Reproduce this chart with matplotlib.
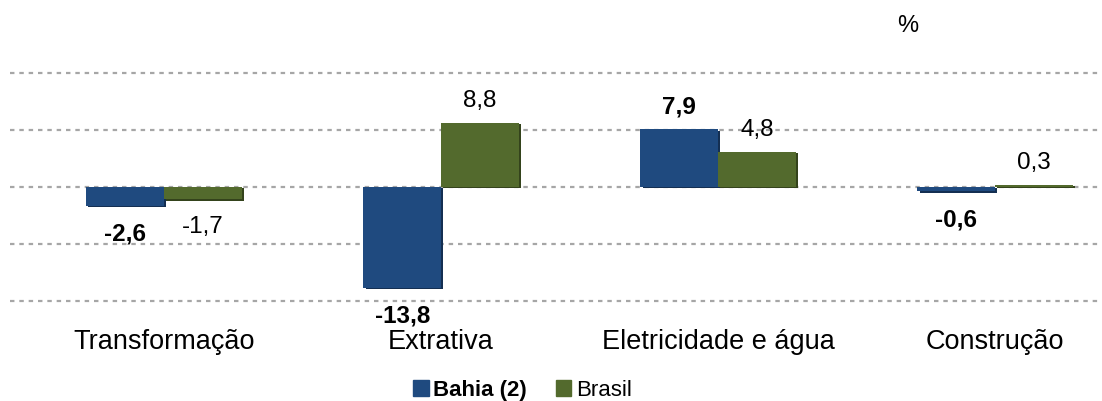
import numpy as np
import matplotlib.pyplot as plt
import matplotlib.patheffects as pe

categories = ["Transformação", "Extrativa", "Eletricidade e água", "Construção"]
bahia = [-2.6, -13.8, 7.9, -0.6]
brasil = [-1.7, 8.8, 4.8, 0.3]
series_names = ["Bahia (2)", "Brasil"]
grid_levels = [-15.6, -7.8, 0, 7.8, 15.6]

BLUE = "#1F4A7F"
GREEN = "#536A2D"

plt.rcParams['font.family'] = ['Liberation Sans', 'DejaVu Sans']

fig = plt.figure(figsize=(11.02, 4.01), dpi=100)
ax = fig.add_axes([0.009, 0.2244, 0.991, 0.6278])

x = np.arange(len(categories))
w = 0.28

for lv in grid_levels:
    ax.axhline(lv, color="#A6A6A6", lw=1.6, ls=(0, (2, 2.2)), zorder=0)

shadow = lambda c: [pe.SimplePatchShadow(offset=(1.5, -1), shadow_rgbFace=c, alpha=1), pe.Normal()]
b1 = ax.bar(x - w / 2, bahia, w, color=BLUE, zorder=2,
            path_effects=shadow("#142F52"))
b2 = ax.bar(x + w / 2, brasil, w, color=GREEN, zorder=2,
            path_effects=shadow("#34431C"))

for bars, vals, weight in [(b1, bahia, "bold"), (b2, brasil, "normal")]:
    for r, v in zip(bars, vals):
        cx = r.get_x() + r.get_width() / 2
        lab = f"{v:.1f}".replace(".", ",")
        if v >= 0:
            ax.annotate(lab, (cx, v), xytext=(0, 8), textcoords="offset points",
                        ha="center", va="bottom", fontsize=17.5, fontweight=weight)
        else:
            ax.annotate(lab, (cx, v), xytext=(0, -12), textcoords="offset points",
                        ha="center", va="top", fontsize=17.5, fontweight=weight)

ax.set_xlim(-0.556, 3.386)
ax.set_ylim(-17, 17.5)
ax.set_xticks(x)
ax.set_xticklabels(categories, fontsize=19.5)
ax.tick_params(axis="x", length=0, pad=13)
ax.set_yticks([])
for s in ax.spines.values():
    s.set_visible(False)

fig.text(0.824, 0.935, "%", fontsize=17, ha="center", va="center")

handles = [plt.Rectangle((0, 0), 1, 1, color=BLUE), plt.Rectangle((0, 0), 1, 1, color=GREEN)]
leg = fig.legend(handles, series_names, loc="center", bbox_to_anchor=(0.474, 0.027),
                 ncol=2, frameon=False, fontsize=16, handlelength=0.7, handleheight=0.7,
                 handletextpad=0.2, columnspacing=1.3)
leg.get_texts()[0].set_fontweight("bold")

fig.savefig("out.png", dpi=100)
